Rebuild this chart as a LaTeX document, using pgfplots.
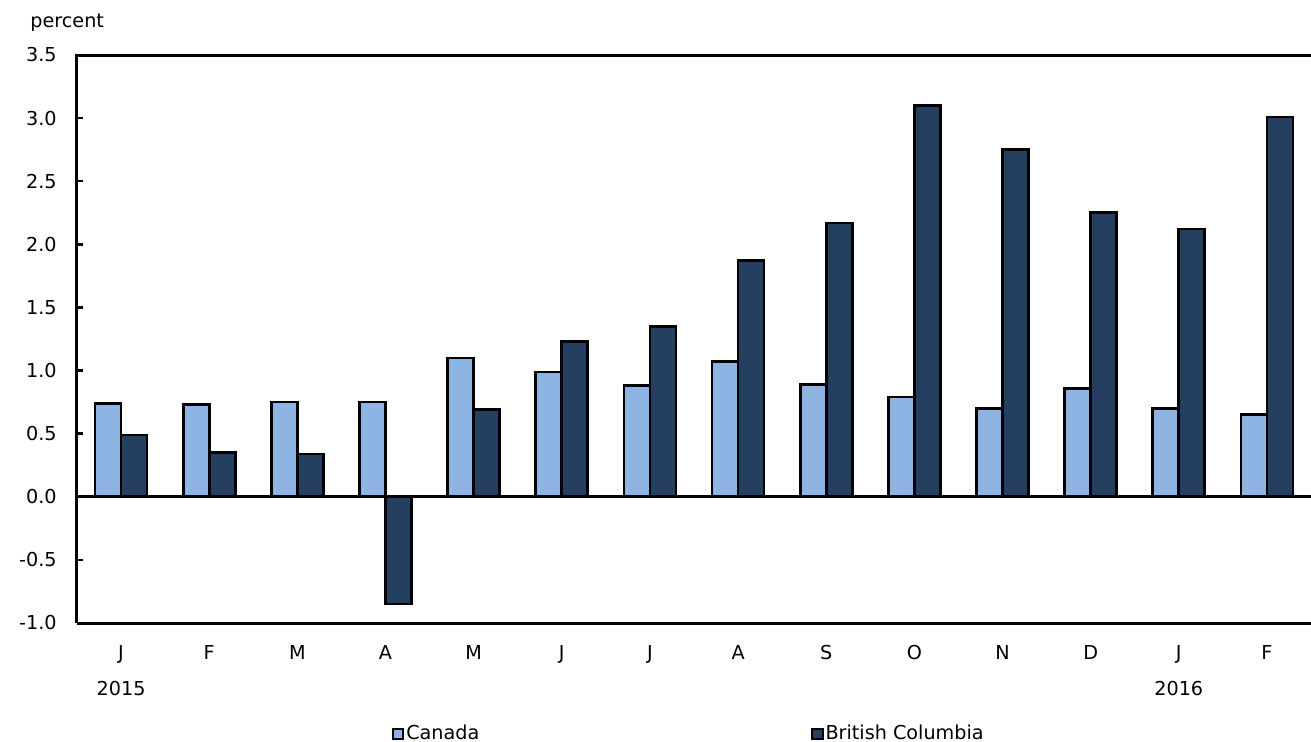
\documentclass[border=0pt]{standalone}
\usepackage{fontspec}
\setmainfont{DejaVu Sans}
\usepackage{pgfplots}
\pgfplotsset{compat=1.18}
\usepackage{pgfplotstable}

\definecolor{canada}{HTML}{8DB4E2}
\definecolor{bc}{HTML}{243F60}

\pgfplotstableread{
x canada bc
0  0.74 0.49
1  0.73 0.35
2  0.75 0.34
3  0.75 -0.85
4  1.10 0.69
5  0.99 1.23
6  0.88 1.35
7  1.07 1.87
8  0.89 2.17
9  0.79 3.10
10 0.70 2.75
11 0.86 2.25
12 0.70 2.12
13 0.65 3.01
}\datatable

\begin{document}
\fontsize{9.6bp}{11.5bp}\selectfont
\begin{tikzpicture}
\begin{axis}[
    name=ax,
    scale only axis,
    width=617bp, height=284bp,
    clip=false,
    ybar=0pt, bar width=13bp,
    xmin=-0.5, xmax=13.5,
    ymin=-1, ymax=3.5,
    axis line style={draw=none},
    xtick=data,
    xticklabels={{J\\[6.5bp]2015},F,M,A,M,J,J,A,S,O,N,D,{J\\[6.5bp]2016},F},
    xtick style={draw=none},
    xticklabel style={align=center, inner sep=0pt, yshift=-11bp},
    ytick={-1,-0.5,...,3.5},
    ytick pos=left, tick align=inside,
    major tick length=3bp,
    ytick style={line width=1.2bp, black},
    yticklabel style={inner sep=0pt, xshift=-10bp},
    /pgf/number format/.cd, fixed, fixed zerofill, precision=1, assume math mode=true,
    /pgfplots/.cd,
    legend columns=2,
    legend style={draw=none, at={(0.255,0)}, anchor=north west, yshift=-50bp,
        inner sep=0pt, nodes={inner sep=1bp},
        /tikz/every even column/.append style={column sep=165bp}},
    legend image code/.code={\draw[#1, line width=0.9bp] (0bp,-2.6bp) rectangle (5.2bp,2.6bp);},
]
\addplot[fill=canada, draw=black, line width=1.3bp] table[x=x, y=canada] {\datatable};
\addplot[fill=bc, draw=black, line width=1.3bp] table[x=x, y=bc] {\datatable};
\legend{Canada, British Columbia}
\draw[line width=1.5bp] (rel axis cs:0,0) -- (rel axis cs:1,0);
\draw[line width=1.5bp] (rel axis cs:0,0) -- (rel axis cs:0,1) -- (rel axis cs:1,1);
\draw[line width=1.5bp] (axis cs:-0.5,0) -- (axis cs:13.5,0);
\node[anchor=base west, xshift=-23.5bp, yshift=14bp, inner sep=0pt] at (rel axis cs:0,1) {percent};
\end{axis}
\pgfresetboundingbox
\path[use as bounding box] ([shift={(-38.5bp,-59.5bp)}]ax.south west) rectangle ([shift={(0bp,27.5bp)}]ax.north east);
\end{tikzpicture}
\end{document}
